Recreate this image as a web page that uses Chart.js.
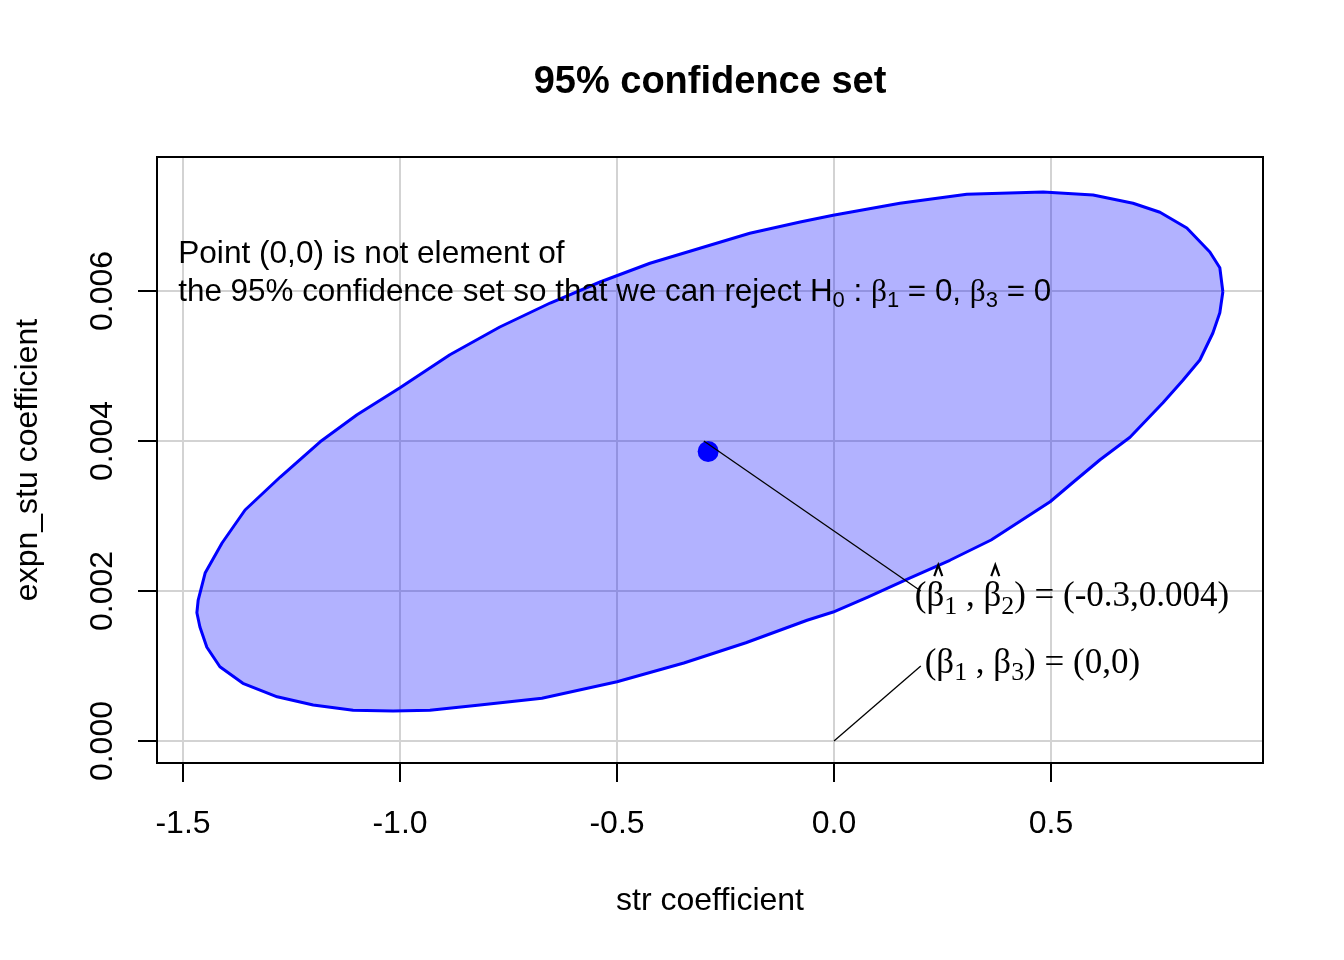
<!DOCTYPE html>
<html>
<head>
<meta charset="utf-8">
<title>95% confidence set</title>
<script src="https://cdn.jsdelivr.net/npm/chart.js@4.4.1/dist/chart.umd.min.js"></script>
<style>
  html, body { margin: 0; padding: 0; background: #fff; }
  canvas { display: block; }
</style>
</head>
<body>
<canvas id="chart" width="1344" height="960"></canvas>
<script>
// ellipse outline (str coef, expn_stu coef)
const ellipseX = [0.896, 0.889, 0.866, 0.813, 0.751, 0.689, 0.597, 0.482, 0.306, 0.152,
  -0.002, -0.078, -0.194, -0.309, -0.424, -0.539, -0.654, -0.770, -0.885, -1.000,
  -1.099, -1.184, -1.276, -1.357, -1.410, -1.449, -1.465, -1.468, -1.461, -1.445,
  -1.415, -1.362, -1.283, -1.200, -1.108, -1.016, -0.931, -0.816, -0.673, -0.500,
  -0.346, -0.203, -0.062, -0.002, 0.078, 0.173, 0.267, 0.362, 0.498, 0.551,
  0.613, 0.682, 0.758, 0.804, 0.843, 0.873, 0.889, 0.896];
const ellipseY = [0.00599, 0.00631, 0.00652, 0.00684, 0.00705, 0.00717, 0.00728, 0.00732, 0.00729, 0.00717,
  0.00701, 0.00692, 0.00677, 0.00657, 0.00637, 0.00612, 0.00584, 0.00552, 0.00515, 0.00471,
  0.00435, 0.00399, 0.00352, 0.00308, 0.00264, 0.00224, 0.00188, 0.00171, 0.00152, 0.00125,
  0.00099, 0.00077, 0.00059, 0.00048, 0.00041, 0.00040, 0.00041, 0.00048, 0.00057, 0.00079,
  0.00104, 0.00131, 0.00161, 0.00172, 0.00192, 0.00217, 0.00241, 0.00268, 0.00319, 0.00345,
  0.00375, 0.00405, 0.00451, 0.00481, 0.00508, 0.00544, 0.00571, 0.00599];

const estimateX = [-0.29];
const estimateY = [0.00386];

const hatLineX = [-0.3, 0.2];
const hatLineY = [0.004, 0.002];
const originLineX = [0, 0.2];
const originLineY = [0, 0.001];

const xTicks = [-1.5, -1.0, -0.5, 0.0, 0.5];
const xTickLabels = ['-1.5', '-1.0', '-0.5', '0.0', '0.5'];
const yTicks = [0, 0.002, 0.004, 0.006];
const yTickLabels = ['0.000', '0.002', '0.004', '0.006'];

const SANS = '"Liberation Sans", Arial, sans-serif';
const SERIF = '"Liberation Serif", "Times New Roman", serif';

const toPoints = (xs, ys) => xs.map((x, i) => ({ x: x, y: ys[i] }));

// draw a run of text pieces, some as subscripts or with a hat
function drawRich(ctx, x, y, parts, size, subScale, subShift) {
  let cx = x;
  ctx.textAlign = 'left';
  ctx.textBaseline = 'alphabetic';
  for (const p of parts) {
    const fs = p.sub ? size * subScale : size;
    ctx.font = fs + 'px ' + (p.serif ? SERIF : SANS);
    const w = ctx.measureText(p.t).width;
    ctx.fillText(p.t, cx, y + (p.sub ? size * subShift : 0));
    if (p.hat) {
      const hx = cx + w / 2 + 3;
      const hy = y - size - 6;
      ctx.save();
      ctx.strokeStyle = '#000';
      ctx.lineWidth = 2.2;
      ctx.beginPath();
      ctx.moveTo(hx - 4, hy + 11);
      ctx.lineTo(hx, hy);
      ctx.lineTo(hx + 4, hy + 11);
      ctx.stroke();
      ctx.restore();
    }
    cx += w;
  }
}

const textPlugin = {
  id: 'rText',
  afterDraw(chart) {
    const ctx = chart.ctx;
    const a = chart.chartArea;
    const sx = chart.scales.x;
    const sy = chart.scales.y;
    ctx.save();
    ctx.fillStyle = '#000';

    // box
    ctx.strokeStyle = '#000';
    ctx.lineWidth = 2;
    ctx.strokeRect(a.left, a.top, a.right - a.left, a.bottom - a.top);

    // title
    ctx.font = 'bold 38px ' + SANS;
    ctx.textAlign = 'center';
    ctx.textBaseline = 'alphabetic';
    ctx.fillText('95% confidence set', (a.left + a.right) / 2, 93);

    // x tick labels and title
    ctx.font = '32px ' + SANS;
    xTicks.forEach((v, i) => ctx.fillText(xTickLabels[i], sx.getPixelForValue(v), 833));
    ctx.fillText('str coefficient', (a.left + a.right) / 2, 910);

    // y tick labels, rotated like R
    yTicks.forEach((v, i) => {
      ctx.save();
      ctx.translate(112, sy.getPixelForValue(v));
      ctx.rotate(-Math.PI / 2);
      ctx.fillText(yTickLabels[i], 0, 0);
      ctx.restore();
    });
    ctx.save();
    ctx.translate(37, (a.top + a.bottom) / 2);
    ctx.rotate(-Math.PI / 2);
    ctx.fillText('expn_stu coefficient', 0, 0);
    ctx.restore();

    // note
    const nx = sx.getPixelForValue(-1.511);
    drawRich(ctx, nx, sy.getPixelForValue(0.006373), [{ t: 'Point (0,0) is not element of' }], 31.6, 0.7, 0.2);
    drawRich(ctx, nx, sy.getPixelForValue(0.005867), [
      { t: 'the 95% confidence set so that we can reject H' },
      { t: '0', sub: true },
      { t: ' : ' },
      { t: 'β', serif: true },
      { t: '1', sub: true },
      { t: ' = 0, ' },
      { t: 'β', serif: true },
      { t: '3', sub: true },
      { t: ' = 0' }
    ], 31.4, 0.7, 0.2);

    // point labels
    drawRich(ctx, sx.getPixelForValue(0.186), sy.getPixelForValue(0.00180), [
      { t: '(', serif: true },
      { t: 'β', serif: true, hat: true },
      { t: '1', serif: true, sub: true },
      { t: ' , ', serif: true },
      { t: 'β', serif: true, hat: true },
      { t: '2', serif: true, sub: true },
      { t: ') = (-0.3,0.004)', serif: true }
    ], 35, 0.74, 0.22);
    drawRich(ctx, sx.getPixelForValue(0.209), sy.getPixelForValue(0.00091), [
      { t: '(', serif: true },
      { t: 'β', serif: true },
      { t: '1', serif: true, sub: true },
      { t: ' , ', serif: true },
      { t: 'β', serif: true },
      { t: '3', serif: true, sub: true },
      { t: ') = (0,0)', serif: true }
    ], 35, 0.74, 0.22);

    ctx.restore();
  }
};

const gridOpts = {
  color: '#d3d3d3',
  lineWidth: 2,
  drawTicks: true,
  tickLength: 19,
  tickColor: '#000',
  tickWidth: 2
};

new Chart(document.getElementById('chart'), {
  type: 'line',
  data: {
    datasets: [
      {
        data: toPoints(hatLineX, hatLineY),
        borderColor: '#000',
        borderWidth: 1.3,
        pointRadius: 0,
        fill: false,
        order: 0
      },
      {
        data: toPoints(originLineX, originLineY),
        borderColor: '#000',
        borderWidth: 1.3,
        pointRadius: 0,
        fill: false,
        order: 0
      },
      {
        data: toPoints(estimateX, estimateY),
        showLine: false,
        pointRadius: 10.5,
        pointBackgroundColor: '#0000ff',
        pointBorderWidth: 0,
        order: 1
      },
      {
        data: toPoints(ellipseX, ellipseY),
        borderColor: '#0000ff',
        borderWidth: 3,
        borderJoinStyle: 'round',
        backgroundColor: 'rgba(0, 0, 255, 0.3)',
        pointRadius: 0,
        tension: 0,
        fill: 'shape',
        order: 2
      }
    ]
  },
  options: {
    responsive: false,
    animation: false,
    devicePixelRatio: 1,
    events: [],
    layout: { padding: { left: 138, top: 157, right: 81, bottom: 178 } },
    plugins: { legend: { display: false }, tooltip: { enabled: false }, title: { display: false } },
    scales: {
      x: {
        type: 'linear',
        min: -1.5599,
        max: 0.98848,
        ticks: { display: false },
        afterBuildTicks: (scale) => { scale.ticks = xTicks.map(v => ({ value: v })); },
        grid: gridOpts,
        border: { display: false }
      },
      y: {
        type: 'linear',
        min: -0.000293,
        max: 0.0077867,
        ticks: { display: false },
        afterBuildTicks: (scale) => { scale.ticks = yTicks.map(v => ({ value: v })); },
        grid: gridOpts,
        border: { display: false }
      }
    }
  },
  plugins: [textPlugin]
});
</script>
</body>
</html>
